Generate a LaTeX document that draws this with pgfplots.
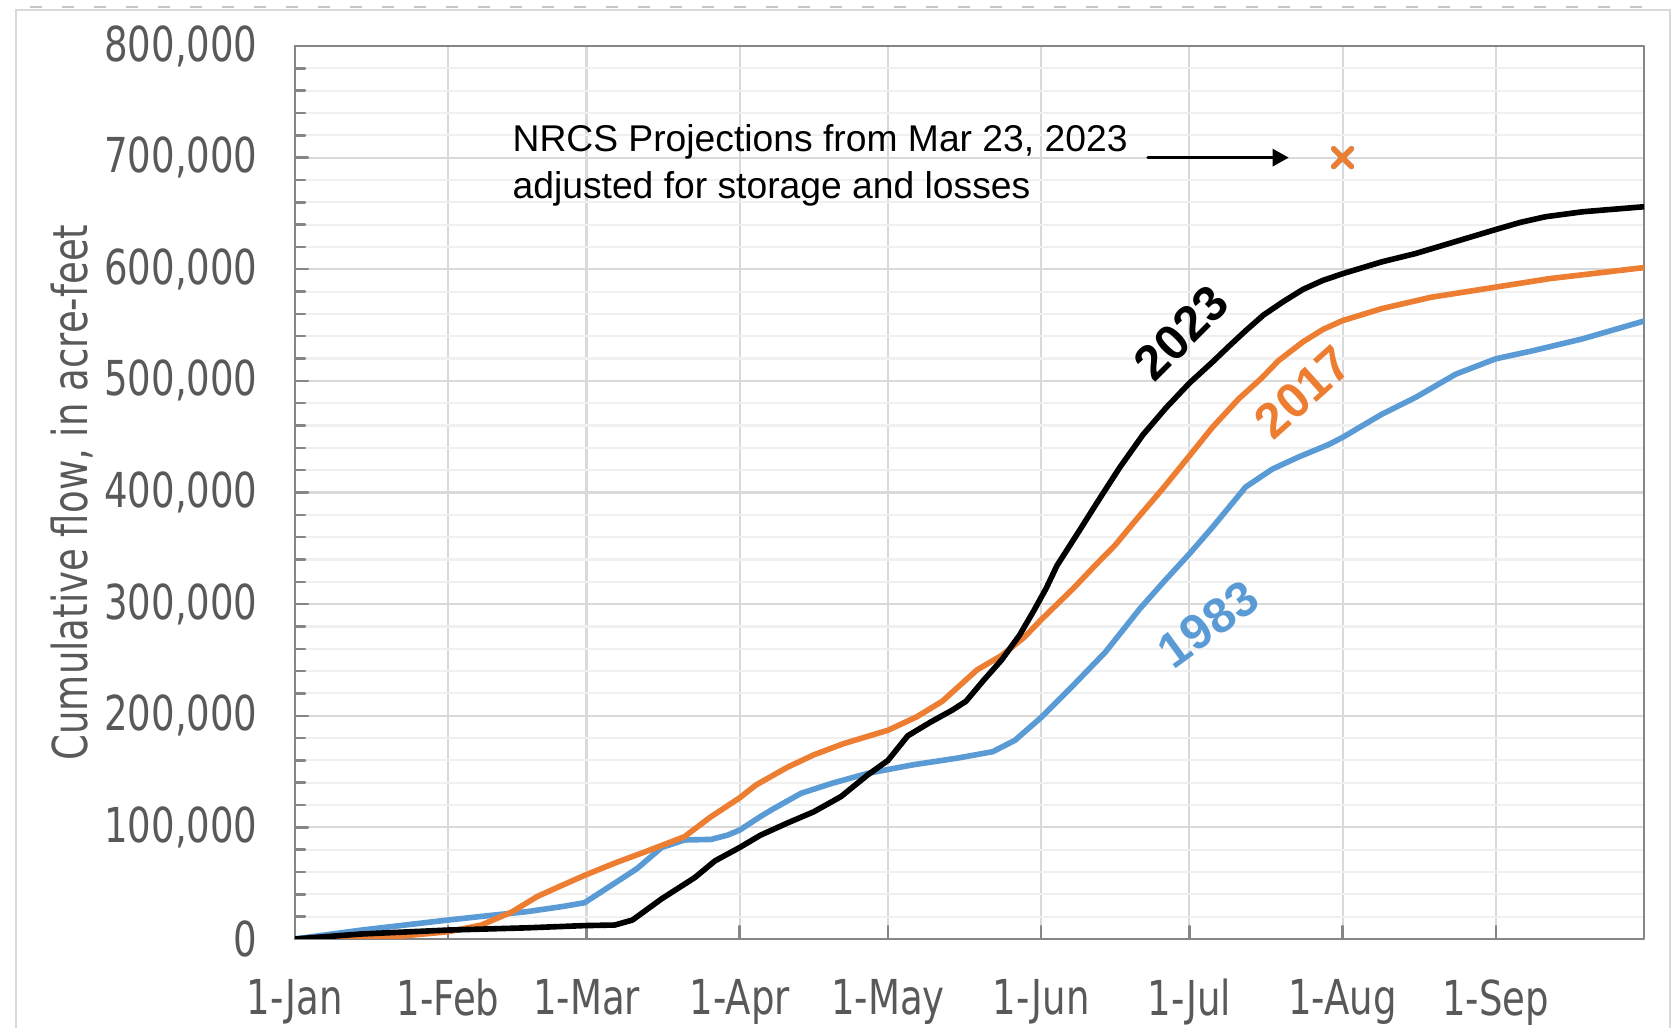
\documentclass[border=0pt]{standalone}
\usepackage{fontspec}
\usepackage{pgfplots}
\pgfplotsset{compat=1.18}
\usetikzlibrary{arrows.meta}
\setmainfont{Liberation Sans}
\newfontfamily\tickfont[FakeStretch=0.77]{DejaVu Sans}

\definecolor{xlblue}{HTML}{5B9BD5}
\definecolor{xlorange}{HTML}{ED7D31}
\definecolor{gridmaj}{HTML}{D9D9D9}
\definecolor{gridmin}{HTML}{F0F0F0}
\definecolor{axgray}{HTML}{868686}
\definecolor{txtgray}{HTML}{595959}

\begin{document}
\begin{tikzpicture}
\begin{axis}[
  at={(2.95cm,0.89cm)}, anchor=south west,
  scale only axis, width=13.49cm, height=8.93cm,
  xmin=0, xmax=273, ymin=0, ymax=800000,
  scaled y ticks=false,
  xtick={0,31,59,90,120,151,181,212,243},
  xticklabels={1-Jan,1-Feb,1-Mar,1-Apr,1-May,1-Jun,1-Jul,1-Aug,1-Sep},
  ytick={0,100000,200000,300000,400000,500000,600000,700000,800000},
  yticklabels={0,{100,000},{200,000},{300,000},{400,000},{500,000},{600,000},{700,000},{800,000}},
  minor y tick num=4,
  grid=both,
  major grid style={draw=gridmaj, line width=0.6pt},
  minor grid style={draw=gridmin, line width=0.6pt},
  axis line style={draw=axgray, line width=0.8pt},
  tick align=inside, tick pos=left,
  major tick length=0.13cm, minor tick length=0.1cm,
  every tick/.style={draw=axgray, line width=0.7pt},
  tick label style={font={\tickfont\fontsize{13.7pt}{16pt}\selectfont}, text=txtgray},
  xticklabel style={yshift=-0.28cm},
  yticklabel style={xshift=-0.25cm},
  ylabel={Cumulative flow, in acre-feet},
  ylabel style={font={\tickfont\fontsize{13.7pt}{16pt}\selectfont}, text=txtgray,
    at={(axis description cs:-0.165,0.5)}, anchor=center},
  line join=round, line cap=round,
]
% 1983
\addplot[xlblue, line width=1.6pt] coordinates {
(0,0) (13.5,8000) (31,17000) (40.4,21500) (47,24500) (54,29000) (58.6,32500)
(64,48000) (69.2,63000) (74.2,82000) (78.8,88700) (84.2,89200) (87.5,93000)
(90,97600) (94.2,109700) (96.4,115600) (102.4,130500) (108.7,139500) (115.9,148400)
(125,156000) (134,162000) (141.2,167800) (145.7,178000) (151,198500) (157,225000)
(164,257000) (171,296000) (176.3,322400) (181,345000) (185.7,369000) (192.4,405000)
(197.8,421000) (203.2,432000) (209.2,443000) (212,449400) (219.9,470000) (226.7,485000)
(234.9,506000) (243,519800) (250.5,527000) (260.6,537700) (273,553600)
};
% 2017
\addplot[xlorange, line width=1.6pt] coordinates {
(0,0) (10,500) (20,2000) (31,6500) (37.7,12500) (43.8,24000) (49,38000) (54,48000)
(58.6,57000) (64.7,68000) (70.8,78000) (78.8,91600) (84,109000) (90,126500)
(93.3,138000) (99.7,154000) (105,165000) (111,175000) (120,187000) (125.8,199000)
(131,213000) (138,241000) (143,254000) (147.5,270000) (151,286000) (157.5,314000)
(162,335000) (166,353000) (170.3,376000) (175.6,403400) (181,432800) (185.7,458600)
(191,484000) (195.5,502000) (199,518000) (204,535000) (208,546000) (212,554000)
(219.9,564700) (230,575000) (243,584000) (253.9,591600) (273,601500)
};
% 2023
\addplot[black, line width=1.6pt] coordinates {
(0,0) (13.5,4500) (31,8000) (47,10000) (58.6,12000) (64.7,12500) (68.3,17000)
(74.2,36000) (80.9,55000) (85,70000) (90,82000) (94.2,93000) (99.7,104000)
(105,114000) (110.5,127600) (115.9,147000) (120,160000) (124,182000) (128.5,194000)
(133,205000) (135.8,213000) (139.4,232000) (143,250000) (146.6,272000) (149.5,294000)
(152,314000) (154.2,334500) (158.9,367000) (162.9,395000) (166.9,422400) (171.6,451700)
(176.3,476000) (181,498000) (185.7,517000) (189,531000) (192.4,545000) (196,559000)
(200,571000) (204,582000) (208,590000) (212,596000) (219.9,606600) (226.7,614000)
(233.5,623000) (243,635600) (248,642000) (253,647000) (260.6,651500) (273,656000)
};
% NRCS projection
\addplot[only marks, mark=x, mark size=3.6pt, xlblue, mark options={line width=1.5pt}] coordinates {(212,700000)};
\addplot[only marks, mark=x, mark size=3.6pt, xlorange, mark options={line width=1.5pt}] coordinates {(212,700000)};

\draw[black, line width=0.85pt, -{Triangle[length=0.16cm, width=0.17cm]}]
  (axis cs:172.6,700000) -- (axis cs:201.1,700000);
\node[anchor=west, align=left, font=\fontsize{10.6pt}{13.2pt}\selectfont, inner sep=0pt]
  at (axis cs:43.9,693000) {NRCS Projections from Mar 23, 2023\\adjusted for storage and losses};

\node[rotate=45, font=\fontsize{14pt}{17pt}\selectfont\bfseries, text=black] at (axis cs:179.4,543000) {2023};
\node[rotate=42, font=\fontsize{14pt}{17pt}\selectfont\bfseries, text=xlorange] at (axis cs:204.0,490000) {2017};
\node[rotate=36, font=\fontsize{14pt}{17pt}\selectfont\bfseries, text=xlblue] at (axis cs:184.8,282000) {1983};
\end{axis}
\draw[gridmaj, line width=0.8pt] (0.16,-1) -- (0.16,10.18) -- (16.70,10.18) -- (16.70,-1);
\draw[color=gray!45, dashed, dash pattern=on 0.12cm off 0.2cm, line width=0.6pt] (0.3,10.21) -- (16.6,10.21);
\pgfresetboundingbox
\path[use as bounding box] (0,0) rectangle (16.71,10.28);
\end{tikzpicture}
\end{document}
